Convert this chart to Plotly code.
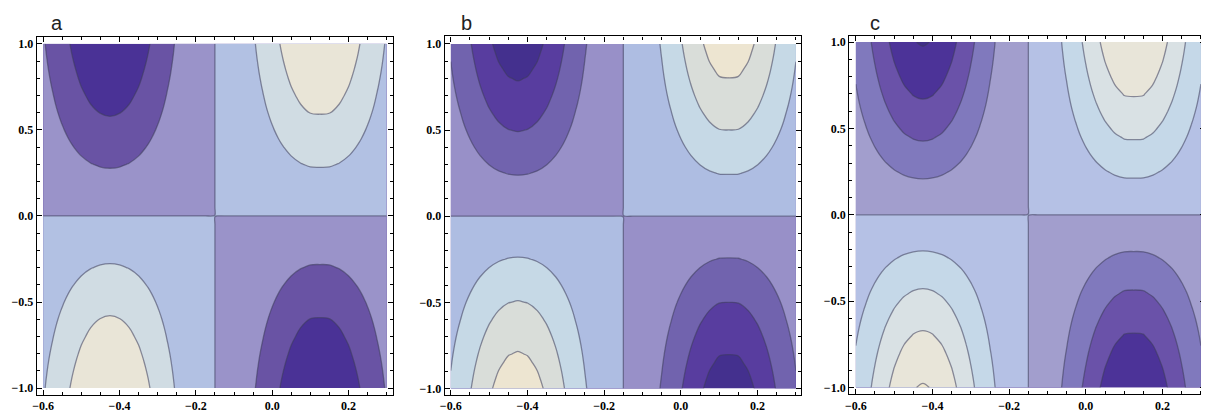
import plotly.graph_objects as go

# ---- data ----
# x grid (the node line at x = -0.15 lies between samples)
x_vals = [-0.6, -0.575, -0.55, -0.525, -0.5, -0.475, -0.45, -0.425, -0.4, -0.375,
          -0.35, -0.325, -0.3, -0.275, -0.25, -0.225, -0.2, -0.175, -0.155,
          -0.145, -0.125, -0.1, -0.075, -0.05, -0.025, 0.0, 0.025, 0.05, 0.075, 0.1,
          0.125, 0.15, 0.175, 0.2, 0.225, 0.25, 0.275, 0.3]
# relative amplitude along x (estimated from contour crossings)
x_profile = [-0.3015, -0.4144, -0.5424, -0.676, -0.8023, -0.9068, -0.9758, -1.0, -0.9758, -0.9068,
             -0.8023, -0.6756, -0.5416, -0.4125, -0.2974, -0.2006, -0.1218, -0.057, -0.0114,
             0.0114, 0.057, 0.1218, 0.2006, 0.2974, 0.4125, 0.5416, 0.6756, 0.8023, 0.9068, 0.9745,
             0.982, 0.9745, 0.9068, 0.8023, 0.676, 0.5424, 0.4144, 0.3015]
# y grid (the node line at y = 0 lies between samples)
y_vals = [-1.0, -0.95, -0.9, -0.85, -0.8, -0.75, -0.7, -0.65, -0.6, -0.55,
          -0.5, -0.45, -0.4, -0.35, -0.3, -0.25, -0.2, -0.15, -0.1, -0.05, -0.005,
          0.005, 0.05, 0.1, 0.15, 0.2, 0.25, 0.3, 0.35, 0.4, 0.45, 0.5,
          0.55, 0.6, 0.65, 0.7, 0.75, 0.8, 0.85, 0.9, 0.95, 1.0]
y_profile = [-1.0, -0.9667, -0.9309, -0.8928, -0.8525, -0.8101, -0.7656, -0.7192, -0.671, -0.6212,
             -0.5697, -0.5169, -0.4628, -0.4075, -0.3512, -0.294, -0.2361, -0.1776, -0.1186, -0.0594, -0.0059,
             0.0059, 0.0594, 0.1186, 0.1776, 0.2361, 0.294, 0.3512, 0.4075, 0.4628, 0.5169, 0.5697,
             0.6212, 0.671, 0.7192, 0.7656, 0.8101, 0.8525, 0.8928, 0.9309, 0.9667, 1.0]

panel_labels = ["a", "b", "c"]
levels_a = [-0.65, -0.325, 0.0, 0.325, 0.65]
levels_b = [-0.84, -0.56, -0.28, 0.0, 0.28, 0.56, 0.84]
levels_c = [-0.984, -0.738, -0.492, -0.246, 0.0, 0.246, 0.492, 0.738, 0.984]
colors_a = ['#4a3296', '#6953a4', '#9a93c9', '#b2c1e3', '#d0dce3', '#e9e5d7']
colors_b = ['#44308e', '#583d9f', '#7163ae', '#9890c8', '#aebde2', '#c6d9e6', '#d9ddd9', '#ede5d1']
colors_c = ['#402e88', '#4c3398', '#6a52a9', '#8079bd', '#a29ecd', '#b5c1e5', '#c5d8e8',
            '#d9e1e4', '#e8e5d9', '#f1e9d0']

x_ticks = [-0.6, -0.4, -0.2, 0.0, 0.2]
y_ticks = [-1.0, -0.5, 0.0, 0.5, 1.0]

# table the library needs
z = [[yv * xv for xv in x_profile] for yv in y_profile]

# page has an 8px body margin, so the figure is 8px smaller than the window
W, H = 1201, 407
# frame boxes in figure pixels (left, right, top, bottom)
frames = [(24, 382, 27.7, 387.7), (433.7, 791, 27.5, 387.7), (839.7, 1197, 27.2, 387.2)]
# axis ranges (frame is padded around the data)
xranges = [(-0.6164, 0.3176), (-0.6153, 0.3125), (-0.6172, 0.3107)]
yranges = [(-1.039, 1.042), (-1.037, 1.044), (-1.039, 1.035)]
label_x = [44, 455, 866]

fig = go.Figure()
all_levels = [levels_a, levels_b, levels_c]
all_colors = [colors_a, colors_b, colors_c]
for i in range(3):
    lv = all_levels[i]
    cols = all_colors[i]
    n = len(cols) - 1
    cscale = [[k / n, c] for k, c in enumerate(cols)]
    ax = '' if i == 0 else str(i + 1)
    fig.add_trace(go.Contour(
        x=x_vals, y=y_vals, z=z,
        autocontour=False,
        contours=dict(start=lv[0], end=lv[-1], size=round(lv[1] - lv[0], 6), coloring='fill'),
        colorscale=cscale, showscale=False,
        line=dict(color='rgba(60,60,90,0.55)', width=1.3, smoothing=1.0),
        hoverinfo='skip',
        xaxis='x' + ax, yaxis='y' + ax,
    ))
    l, r, t, b = frames[i]
    axis_common = dict(showline=True, linecolor='black', linewidth=1.3, mirror='ticks',
                       ticks='inside', ticklen=5, tickwidth=1, tickcolor='black',
                       showgrid=False, zeroline=False,
                       tickfont=dict(family='Liberation Serif', size=12, color='black', weight='bold'),
                       tickformat='.1f')
    fig.layout['xaxis' + ax] = dict(
        domain=[l / W, r / W], range=list(xranges[i]), anchor='y' + ax,
        tickvals=x_ticks, minor=dict(dtick=0.05, tick0=0, ticks='inside', ticklen=3,
                                     tickcolor='black', tickwidth=1),
        **axis_common)
    fig.layout['yaxis' + ax] = dict(
        domain=[1 - b / H, 1 - t / H], range=list(yranges[i]), anchor='x' + ax,
        tickvals=y_ticks, minor=dict(dtick=0.1, tick0=0, ticks='inside', ticklen=3,
                                     tickcolor='black', tickwidth=1),
        **axis_common)
    fig.add_annotation(text=panel_labels[i], x=label_x[i] / W, y=1 - 14 / H,
                       xref='paper', yref='paper', xanchor='center', yanchor='middle',
                       showarrow=False,
                       font=dict(family='Liberation Sans', size=20, color='#222222'))

fig.update_layout(width=W, height=H, margin=dict(l=0, r=0, t=0, b=0),
                  paper_bgcolor='white', plot_bgcolor='white', showlegend=False)
fig.write_html("out.html")
